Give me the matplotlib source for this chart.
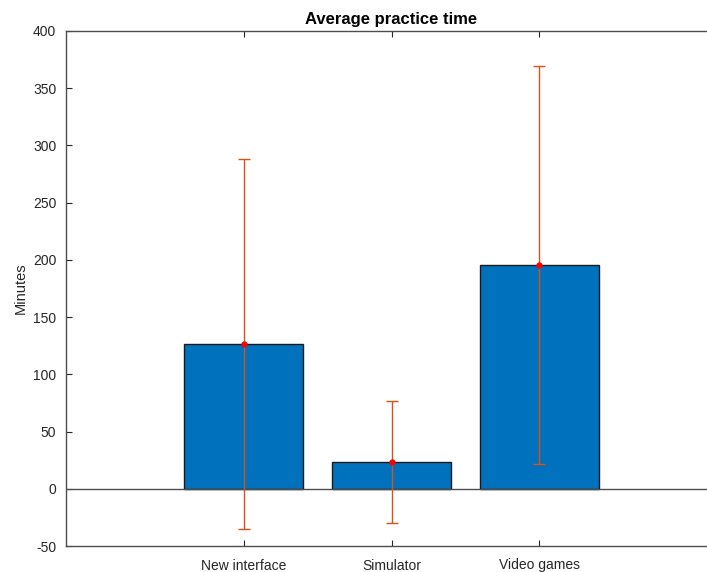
import matplotlib
matplotlib.use('Agg')
from matplotlib import pyplot as plt

categorias = ['New interface', 'Simulator', 'Video games']
medias = [126.5, 23.5, 195.5]
erros = [161.5, 53.5, 174.0]
yticks = [-50, 0, 50, 100, 150, 200, 250, 300, 350, 400]

plt.rcParams['font.family'] = ['Liberation Sans', 'DejaVu Sans']
plt.rcParams['axes.unicode_minus'] = False

fig = plt.figure(dpi=100, figsize=(7.07, 5.72))
ax = fig.add_axes([66 / 707, 26 / 572, 651 / 707, 515 / 572])

x = [1, 2, 3]
ax.bar(x, medias, width=0.8, color='#0072BD', edgecolor='#1a1a1a', linewidth=1, zorder=2)
ax.axhline(0, color='#4d4d4d', linewidth=1, zorder=3)
ax.errorbar(x, medias, yerr=erros, fmt='none', ecolor='#D95319', elinewidth=1,
            capsize=4, capthick=1, zorder=4)
ax.plot(x, medias, 'o', color='red', markersize=3.5, zorder=5)

ax.set_xlim(-0.2, 4.2)
ax.set_ylim(-50, 400)
ax.set_xticks(x)
ax.set_xticklabels(categorias, fontsize=10.5)
ax.set_yticks(yticks)
ax.set_ylabel('Minutes', fontsize=10.5, color='#262626', labelpad=4)
ax.set_title('Average practice time', fontsize=12, fontweight='bold', pad=5)
ax.tick_params(axis='both', direction='in', labelsize=10, colors='#262626',
               length=4, top=True, right=True)
ax.tick_params(axis='y', pad=7)
ax.tick_params(axis='x', pad=9)
for s in ax.spines.values():
    s.set_color('#4d4d4d')
    s.set_linewidth(1)

fig.savefig('out.png', dpi=100)
